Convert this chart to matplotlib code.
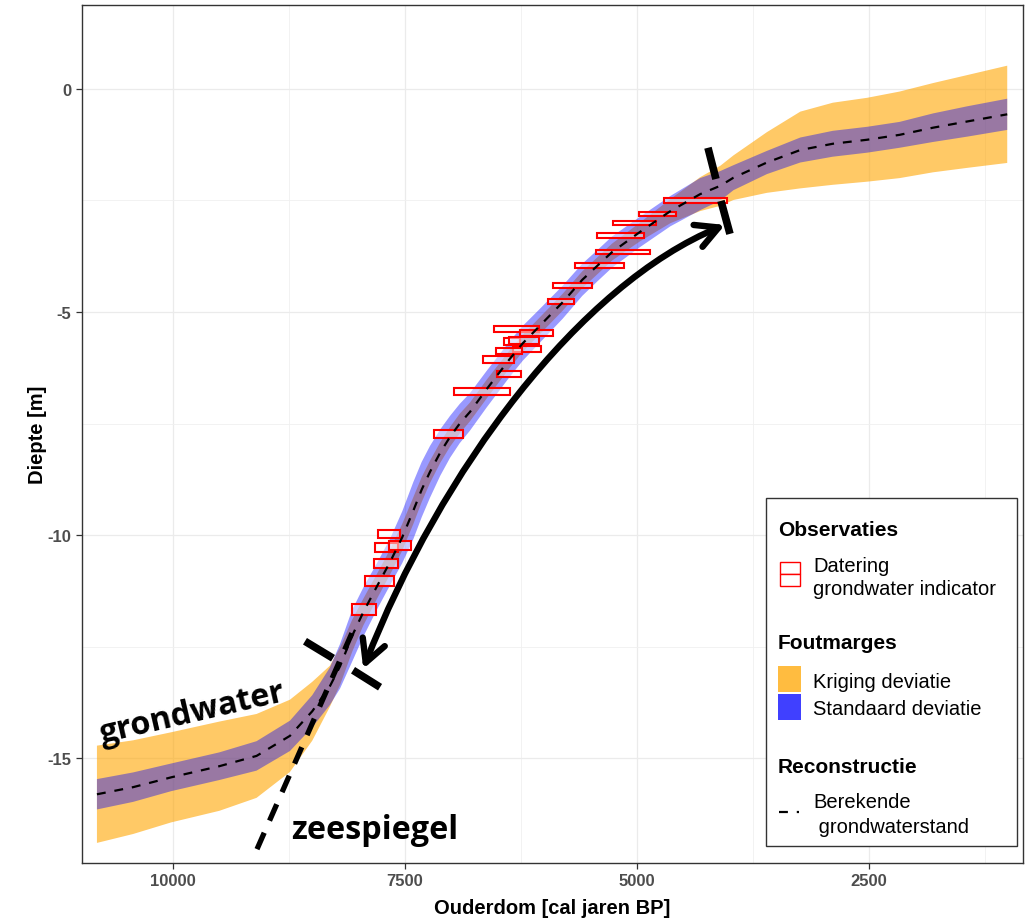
import numpy as np
import matplotlib
matplotlib.use("Agg")
import matplotlib.pyplot as plt
from matplotlib.patches import Rectangle, FancyArrowPatch
from matplotlib.path import Path
from matplotlib.lines import Line2D

plt.rcParams['font.family'] = ['Liberation Sans', 'DejaVu Sans']
plt.rcParams['axes.unicode_minus'] = False

# ---------------- data ----------------
age = [10820, 10430, 10020, 9500, 9100, 8740, 8500, 8310, 8200, 8070,
       7950, 7800, 7660, 7530, 7410, 7320, 7230, 7120, 7015, 6910,
       6800, 6620, 6370, 6230, 6080, 5800, 5590, 5430, 5270, 4970,
       4640, 4320, 4100, 3960, 3600, 3240, 2890, 2520, 2170, 1810,
       1440, 1010]
mean = [-15.81, -15.65, -15.43, -15.18, -14.95, -14.50, -13.95, -13.39, -12.94, -12.26,
        -11.73, -11.14, -10.60, -10.05, -9.45, -8.98, -8.58, -8.15, -7.80, -7.50,
        -7.24, -6.73, -6.05, -5.70, -5.38, -4.78, -4.28, -3.97, -3.66, -3.21,
        -2.74, -2.36, -2.17, -1.99, -1.65, -1.37, -1.23, -1.14, -1.03, -0.87,
        -0.73, -0.57]
std_half = [0.34, 0.33, 0.31, 0.31, 0.33, 0.34, 0.36, 0.42, 0.50, 0.58,
            0.55, 0.52, 0.52, 0.58, 0.64, 0.62, 0.58, 0.52, 0.47, 0.44,
            0.42, 0.41, 0.40, 0.39, 0.38, 0.37, 0.36, 0.35, 0.35, 0.34,
            0.34, 0.36, 0.33, 0.28, 0.26, 0.28, 0.29, 0.29, 0.29, 0.32,
            0.34, 0.35]
krig_half = [1.09, 1.05, 1.01, 1.00, 0.94, 0.81, 0.66, 0.46, 0.42, 0.36,
             0.30, 0.28, 0.28, 0.30, 0.30, 0.28, 0.25, 0.23, 0.22, 0.22,
             0.21, 0.21, 0.20, 0.19, 0.19, 0.19, 0.19, 0.19, 0.19, 0.21,
             0.27, 0.38, 0.45, 0.50, 0.68, 0.86, 0.92, 0.94, 0.97, 1.00,
             1.04, 1.09]

# observations (dating boxes): age range and depth range
obs_age_old = [4709, 4978, 5259, 5431, 5442, 5668, 5905, 5959, 6541, 6261,
               6433, 6379, 6336, 6519, 6659, 6508, 6972, 7188, 7791, 7823,
               7672, 7834, 7931, 8071]
obs_age_young = [4030, 4580, 4795, 4925, 4860, 5140, 5485, 5679, 6056, 5905,
                 6261, 6056, 6034, 6239, 6325, 6250, 6369, 6875, 7554, 7575,
                 7435, 7575, 7619, 7812]
obs_y_low = [-2.56, -2.85, -3.05, -3.34, -3.70, -4.01, -4.46, -4.82, -5.45, -5.54,
             -5.74, -5.72, -5.90, -5.94, -6.14, -6.46, -6.86, -7.82, -10.07, -10.38,
             -10.34, -10.74, -11.14, -11.79]
obs_y_high = [-2.44, -2.76, -2.96, -3.23, -3.61, -3.90, -4.35, -4.71, -5.31, -5.40,
              -5.58, -5.56, -5.76, -5.81, -5.99, -6.32, -6.70, -7.65, -9.89, -10.18,
              -10.13, -10.54, -10.92, -11.55]

x_ticks = [10000, 7500, 5000, 2500]
y_ticks = [0, -5, -10, -15]

# annotation geometry (data coordinates)
sea_line_age = [9095, 8039]
sea_line_y = [-17.04, -12.04]
bar_top = [([4235, 4149], [-1.32, -2.02]), ([4095, 3998], [-2.51, -3.25])]
bar_bottom = [([8578, 8276], [-12.38, -12.76]), ([8060, 7769], [-13.03, -13.41])]
arrow_age = [7950, 7123, 5614, 4052]
arrow_y = [-13.0, -8.565, -4.372, -3.049]

# ---------------- figure ----------------
W, H = 1028, 920
fig = plt.figure(figsize=(W / 100, H / 100), dpi=100)
ax = fig.add_axes([82 / W, 1 - 864 / H, (1023 - 82) / W, (864 - 6) / H])

age_a = np.array(age)
mean_a = np.array(mean)
sd = np.array(std_half)
kr = np.array(krig_half)

ax.fill_between(age_a, mean_a - kr, mean_a + kr, facecolor='#FFA500', alpha=0.6,
                linewidth=0, zorder=1)
ax.fill_between(age_a, mean_a - sd, mean_a + sd, facecolor='#0000FF', alpha=0.4,
                linewidth=0, zorder=2)

for a0, a1, y0, y1 in zip(obs_age_old, obs_age_young, obs_y_low, obs_y_high):
    ax.add_patch(Rectangle((a1, y0), a0 - a1, y1 - y0, facecolor=(1, 1, 1, 0.5),
                           edgecolor='#FF0000', linewidth=1.5, zorder=3))

ax.plot(age_a, mean_a, color='black', linewidth=1.6, linestyle=(0, (4, 4)), zorder=4)

# annotations
ax.plot(sea_line_age, sea_line_y, color='black', linewidth=3.8,
        linestyle=(0, (3.4, 2.5)), solid_capstyle='butt', dash_capstyle='butt', zorder=5)
for xs, ys in bar_top + bar_bottom:
    ax.plot(xs, ys, color='black', linewidth=5.5, solid_capstyle='butt', zorder=5)

arr_path = Path(list(zip(arrow_age, arrow_y)),
                [Path.MOVETO, Path.CURVE4, Path.CURVE4, Path.CURVE4])
arrow = FancyArrowPatch(path=arr_path, arrowstyle='<->,head_length=16,head_width=8.5',
                        color='black', linewidth=4.6, mutation_scale=1,
                        capstyle='round', joinstyle='round', zorder=5)
ax.add_patch(arrow)

ax.text(9790, -13.97, 'grondwater', fontfamily='Open Sans', fontweight='bold',
        fontsize=23.3, rotation=13, ha='center', va='center', rotation_mode='anchor',
        zorder=6)
ax.text(7823, -16.59, 'zeespiegel', fontfamily='Open Sans', fontweight='bold',
        fontsize=23.3, ha='center', va='center', zorder=6)

# axes styling
ax.set_xlim(10981, 840)
ax.set_ylim(-17.35, 1.88)
ax.set_xticks(x_ticks)
ax.set_xticklabels([str(t) for t in x_ticks])
ax.set_yticks(y_ticks)
ax.set_yticklabels([str(t) for t in y_ticks])
ax.set_xticks([8750, 6250, 3750, 1250], minor=True)
ax.set_yticks([-2.5, -7.5, -12.5], minor=True)
ax.set_axisbelow(True)
ax.grid(which='major', color='#EBEBEB', linewidth=0.9)
ax.grid(which='minor', color='#F0F0F0', linewidth=0.6)
ax.tick_params(which='minor', length=0)
ax.tick_params(which='major', length=4, width=0.9, color='#333333', pad=3.5,
               labelsize=12, labelcolor='#4D4D4D')
for lab in ax.get_xticklabels() + ax.get_yticklabels():
    lab.set_fontweight('bold')
for sp in ax.spines.values():
    sp.set_color('#333333')
    sp.set_linewidth(1.0)

ax.set_xlabel('Ouderdom [cal jaren BP]', fontsize=14.5, fontweight='bold', labelpad=7)
ax.set_ylabel('Diepte [m]', fontsize=14.5, fontweight='bold', labelpad=0.5)

# ---------------- legend (manual, ggplot style) ----------------
def fx(px):
    return px / W

def fy(py):
    return 1 - py / H

tf = fig.transFigure
ax.add_patch(Rectangle((fx(766), fy(847)), fx(1017) - fx(766), fy(499) - fy(847),
                       transform=tf, facecolor='white', edgecolor='#333333',
                       linewidth=1.0, zorder=10, clip_on=False))

def ltxt(px, py, s, bold=False, size=14.5):
    ax.text(fx(px), fy(py), s, transform=tf, ha='left', va='center',
            fontsize=15 if bold else size, fontweight='bold' if bold else 'normal',
            color='black', zorder=11, clip_on=False)

ltxt(778, 530, 'Observaties', bold=True)
for top in (563, 575):
    ax.add_patch(Rectangle((fx(780), fy(top + 12)), fx(800) - fx(780), fy(top) - fy(top + 12),
                           transform=tf, facecolor='white', edgecolor='#FF0000',
                           linewidth=1.0, zorder=11, clip_on=False))
ltxt(813, 567, 'Datering')
ltxt(813, 590, 'grondwater indicator')

ltxt(778, 644, 'Foutmarges', bold=True)
ax.add_patch(Rectangle((fx(778), fy(693)), fx(801) - fx(778), fy(667) - fy(693),
                       transform=tf, facecolor='#FFBC40', edgecolor='none',
                       zorder=11, clip_on=False))
ax.add_patch(Rectangle((fx(778), fy(721)), fx(801) - fx(778), fy(695) - fy(721),
                       transform=tf, facecolor='#4040FF', edgecolor='none',
                       zorder=11, clip_on=False))
ltxt(813, 683, 'Kriging deviatie')
ltxt(813, 710, 'Standaard deviatie')

ltxt(778, 768, 'Reconstructie', bold=True)
ax.add_line(Line2D([fx(779), fx(799)], [fy(813), fy(813)], transform=tf, color='black',
                   linewidth=1.6, linestyle=(0, (4, 4)), zorder=11, clip_on=False))
ltxt(813, 803, 'Berekende')
ltxt(813, 828, ' grondwaterstand')

fig.savefig('out.png', dpi=100)
